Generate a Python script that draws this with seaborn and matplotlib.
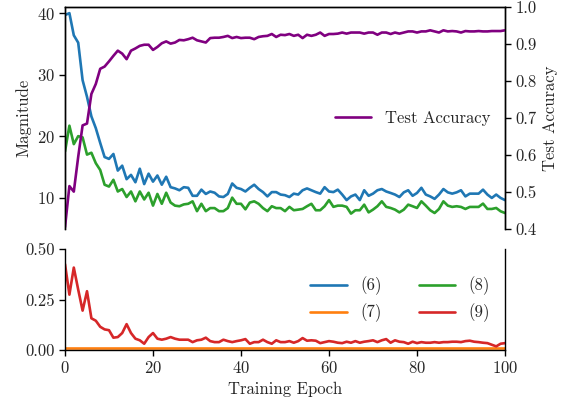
import numpy as np
import pandas as pd
import matplotlib
matplotlib.use("Agg")
import matplotlib.pyplot as plt
import seaborn as sns

epochs = list(range(101))

mag_6 = [39.7, 40.0, 36.4, 35.2, 29.1, 26.4, 23.2, 21.3, 18.9, 16.6, 16.3, 17.1, 14.4, 15.2, 13.0, 13.7, 12.5, 14.7, 12.2, 13.9,
         12.6, 13.6, 12.1, 13.4, 11.7, 11.5, 11.2,
         11.7, 11.6, 10.3, 10.3, 11.3, 10.6, 11.0, 10.8, 10.2, 10.1, 10.6, 12.3, 11.6, 11.4, 11.0, 11.6, 12.1, 11.4, 10.9, 10.2,
         10.9, 10.9, 10.5, 10.4,
         10.1, 10.65, 10.5, 11.2, 11.5, 11.2, 10.9, 10.65, 11.7, 11.0, 10.9, 11.3, 10.5, 9.6, 10.2, 10.5, 9.6, 11.2, 10.3, 10.65,
         11.2, 11.4, 11.0, 10.76,
         10.5, 10.1, 10.86, 11.2, 10.3, 10.76, 11.6, 10.5, 10.2, 9.8, 10.5, 11.4, 10.86, 10.65, 10.86, 11.2, 10.2, 10.65, 10.65,
         10.65, 11.3, 10.5, 9.95, 10.5, 9.95, 9.6]

mag_8 = [17.5, 21.7, 18.7, 20.0, 19.8, 17.0, 17.3, 15.6, 14.5, 12.1, 11.8, 12.9, 11.0, 11.4, 10.1, 11.0, 9.4, 11.0, 9.7, 10.8,
         8.7, 10.6, 9.0, 10.8, 9.2, 8.7, 8.6,
         8.9, 9.0, 9.4, 7.8, 9.0, 7.8, 8.3, 8.3, 7.8, 7.8, 8.3, 10.0, 9.0, 9.0, 8.1, 9.2, 9.4, 9.0, 8.3, 7.8, 8.6, 8.3, 8.3, 7.8,
         8.5, 7.95, 8.05, 8.16, 8.6, 9.0, 7.95, 7.95, 8.6, 9.6, 8.5, 8.7, 8.7, 8.5, 7.4, 7.95, 7.95, 8.86, 7.6, 8.05, 8.6, 9.4,
         8.5, 8.32,
         8.05, 7.6, 8.05, 8.86, 8.6, 8.32, 9.4, 8.7, 7.95, 7.5, 8.16, 9.4, 8.7, 8.49, 8.6, 8.49, 8.16, 8.49, 8.49, 8.49, 9.03,
         8.16, 8.16, 8.32, 7.78, 7.5]

mag_7 = [0.008, 0.008, 0.008, 0.008, 0.008, 0.008, 0.008, 0.008, 0.008, 0.008,
         0.008, 0.008, 0.008, 0.008, 0.008, 0.008, 0.008, 0.008, 0.008, 0.008,
         0.008, 0.008, 0.008, 0.008, 0.008, 0.008, 0.008, 0.008, 0.008, 0.008,
         0.008, 0.008, 0.008, 0.008, 0.008, 0.008, 0.008, 0.008, 0.008, 0.008,
         0.008, 0.008, 0.008, 0.008, 0.008, 0.008, 0.008, 0.008, 0.008, 0.008,
         0.008, 0.008, 0.008, 0.008, 0.008, 0.008, 0.008, 0.008, 0.008, 0.008,
         0.008, 0.008, 0.008, 0.008, 0.008, 0.008, 0.008, 0.008, 0.008, 0.008,
         0.008, 0.008, 0.008, 0.008, 0.008, 0.008, 0.008, 0.008, 0.008, 0.008,
         0.008, 0.008, 0.008, 0.008, 0.008, 0.008, 0.008, 0.008, 0.008, 0.008,
         0.008, 0.008, 0.008, 0.008, 0.008, 0.008, 0.008, 0.008, 0.008, 0.008,
         0.008]

mag_9 = [0.425, 0.274, 0.408, 0.299, 0.195, 0.291, 0.157, 0.145, 0.115, 0.102, 0.098, 0.061, 0.064, 0.084, 0.128, 0.084,
         0.056, 0.048, 0.031, 0.064, 0.084, 0.056, 0.051, 0.056, 0.064, 0.056, 0.051, 0.051, 0.051, 0.039, 0.048, 0.051,
         0.061, 0.044, 0.039, 0.039, 0.051, 0.044, 0.039, 0.044, 0.048, 0.054, 0.031, 0.039, 0.039, 0.051, 0.039, 0.031,
         0.048, 0.039,
         0.039, 0.044, 0.036, 0.044, 0.059, 0.046, 0.048, 0.046, 0.034, 0.039, 0.044, 0.041, 0.036, 0.034, 0.041, 0.036,
         0.044, 0.036, 0.041, 0.044, 0.048, 0.039, 0.048, 0.054, 0.036, 0.048, 0.041, 0.039, 0.031, 0.041, 0.034, 0.039,
         0.036, 0.036, 0.039, 0.036, 0.039, 0.039, 0.041, 0.041, 0.039, 0.044, 0.046, 0.041, 0.039, 0.036, 0.034, 0.026,
         0.018, 0.031, 0.034]

test_acc = [0.405, 0.516, 0.501, 0.595, 0.680, 0.685, 0.765, 0.792, 0.833, 0.839, 0.853, 0.868, 0.882, 0.874, 0.859, 0.882,
            0.888, 0.895, 0.898, 0.898, 0.884, 0.892, 0.902, 0.907, 0.901, 0.904, 0.911,
            0.910, 0.913, 0.917, 0.910, 0.907, 0.904, 0.916, 0.917, 0.917, 0.919, 0.922, 0.916, 0.919, 0.916, 0.917, 0.917,
            0.913, 0.919, 0.921, 0.922, 0.927, 0.919, 0.925, 0.924,
            0.927, 0.922, 0.925, 0.916, 0.925, 0.922, 0.925, 0.931, 0.922, 0.927, 0.927, 0.928, 0.931, 0.928, 0.931, 0.931,
            0.931, 0.928, 0.931, 0.931, 0.925, 0.931, 0.931, 0.927,
            0.931, 0.928, 0.931, 0.934, 0.934, 0.931, 0.934, 0.934, 0.937, 0.934, 0.931, 0.937, 0.934, 0.935, 0.934, 0.931,
            0.935, 0.934, 0.934, 0.935, 0.934, 0.934, 0.935, 0.935, 0.935, 0.937]

series_labels = ["(6)", "(7)", "(8)", "(9)"]
acc_label = "Test Accuracy"
x_ticks = [0, 20, 40, 60, 80, 100]
mag_ticks = [10, 20, 30, 40]
acc_ticks = [0.4, 0.5, 0.6, 0.7, 0.8, 0.9, 1.0]
low_ticks = [0.0, 0.25, 0.5]

sns.set_theme(style="ticks")
plt.rcParams["font.family"] = ["cmr10", "DejaVu Serif"]
plt.rcParams["axes.formatter.use_mathtext"] = True
plt.rcParams["mathtext.fontset"] = "cm"
FS = 12
plt.rcParams["font.size"] = FS

C6, C7, C8, C9, CA = "#1f77b4", "#ff7f0e", "#2ca02c", "#d62728", "purple"
LW = 1.9

fig = plt.figure(figsize=(5.67, 4.04), dpi=100)
ax_top = fig.add_axes([65 / 567, 1 - 229 / 404, 440 / 567, 222 / 404])
ax_bot = fig.add_axes([65 / 567, 1 - 350 / 404, 440 / 567, 101 / 404])
ax_acc = ax_top.twinx()

sns.lineplot(x=epochs, y=mag_6, ax=ax_top, color=C6, lw=LW, label=series_labels[0], legend=False)
sns.lineplot(x=epochs, y=mag_8, ax=ax_top, color=C8, lw=LW, label=series_labels[2], legend=False)
sns.lineplot(x=epochs, y=test_acc, ax=ax_acc, color=CA, lw=LW, label=acc_label, legend=False)
sns.lineplot(x=epochs, y=mag_7, ax=ax_bot, color=C7, lw=LW, label=series_labels[1], legend=False)
sns.lineplot(x=epochs, y=mag_9, ax=ax_bot, color=C9, lw=LW, label=series_labels[3], legend=False)

for a in (ax_top, ax_acc, ax_bot):
    a.set_xlim(0, 100)
    a.tick_params(labelsize=FS, color="black", length=4, width=1)
    for s in a.spines.values():
        s.set_color("black")
        s.set_linewidth(1.0)

ax_top.set_ylim(4.9, 41.0)
ax_top.set_yticks(mag_ticks)
ax_top.set_ylabel("Magnitude", fontsize=FS)
ax_acc.set_ylim(0.4, 1.0)
ax_acc.set_yticks(acc_ticks)
ax_acc.set_yticklabels([f"{t:.1f}" for t in acc_ticks])
ax_acc.set_ylabel("Test Accuracy", fontsize=FS)

for a in (ax_top, ax_acc):
    a.spines["bottom"].set_visible(False)
    a.spines["top"].set_visible(True)
    a.tick_params(axis="x", bottom=False, labelbottom=False, top=False)
ax_acc.spines["right"].set_visible(True)

ax_bot.spines["top"].set_visible(False)
ax_bot.spines["right"].set_visible(True)
ax_bot.set_ylim(0, 0.5)
ax_bot.set_yticks(low_ticks)
ax_bot.set_yticklabels([f"{t:.2f}" for t in low_ticks])
ax_bot.set_xticks(x_ticks)
ax_bot.set_xlabel("Training Epoch", fontsize=FS)

ax_acc.legend(loc="center right", frameon=False, fontsize=FS, handlelength=2.2)

h6 = ax_top.get_lines()[0]
h8 = ax_top.get_lines()[1]
h7, h9 = ax_bot.get_lines()[0], ax_bot.get_lines()[1]
ax_bot.legend([h6, h7, h8, h9], series_labels, ncol=2, loc="center right",
              frameon=False, fontsize=FS, columnspacing=2.2, handlelength=2.2)

fig.savefig("out.png", dpi=100)
